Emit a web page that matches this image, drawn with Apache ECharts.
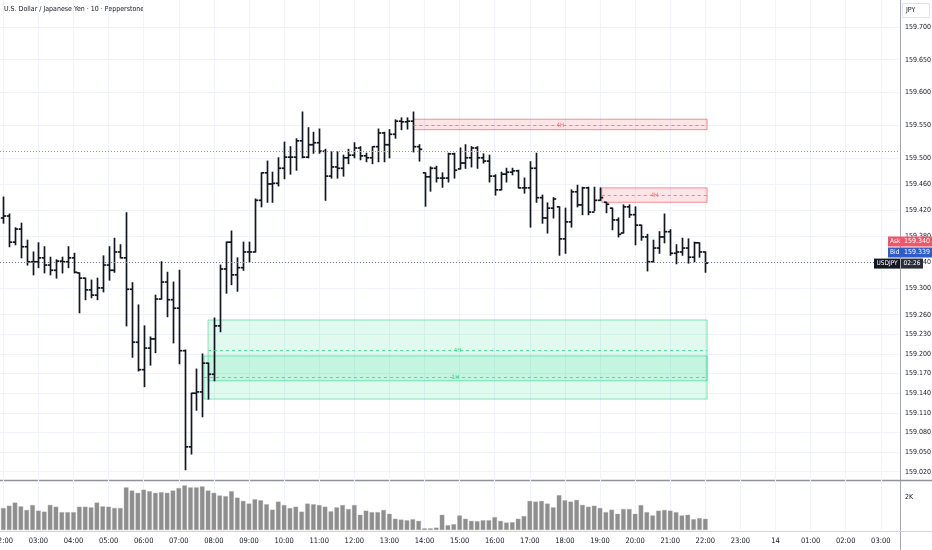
<!DOCTYPE html>
<html>
<head>
<meta charset="utf-8">
<script src="https://cdn.jsdelivr.net/npm/echarts@6.0.0/dist/echarts.min.js"></script>
<style>
html,body{margin:0;padding:0;background:#ffffff;}
#c{width:932px;height:550px;}
</style>
</head>
<body>
<div id="c"></div>
<script>
// ---------- DATA (10-minute bars, 02:00 .. 22:00) ----------
const opens = [
159.408,159.411,159.371,159.391,159.364,159.341,159.341,159.347,159.336,159.328,
159.342,159.341,159.347,159.324,159.316,159.298,159.290,159.301,159.336,159.328,
159.356,159.347,159.299,159.218,159.176,159.209,159.223,159.284,159.310,159.283,
159.270,159.205,159.058,159.140,159.142,159.186,159.169,159.243,159.330,159.371,
159.321,159.332,159.356,159.356,159.435,159.477,159.460,159.461,159.484,159.501,
159.501,159.526,159.501,159.520,159.523,159.510,159.472,159.486,159.484,159.500,
159.504,159.515,159.503,159.500,159.517,159.538,159.520,159.536,159.556,159.555,
159.556,159.517,159.477,159.471,159.484,159.469,159.469,159.506,159.483,159.492,
159.500,159.515,159.500,159.495,159.472,159.451,159.475,159.478,159.480,159.454,
159.454,159.484,159.439,159.408,159.423,159.425,159.376,159.402,159.448,159.428,
159.454,159.417,159.435,159.432,159.423,159.405,159.385,159.425,159.413,159.397,
159.379,159.341,159.362,159.379,159.387,159.354,159.356,159.362,159.348,159.370,
159.356];
const highs = [
159.440,159.414,159.393,159.400,159.374,159.356,159.370,159.364,159.348,159.344,
159.348,159.364,159.354,159.324,159.316,159.313,159.316,159.350,159.364,159.377,
159.367,159.416,159.309,159.275,159.243,159.226,159.290,159.341,159.325,159.310,
159.328,159.206,159.140,159.177,159.200,159.186,159.255,159.336,159.371,159.388,
159.347,159.371,159.371,159.437,159.477,159.495,159.478,159.500,159.524,159.517,
159.529,159.570,159.546,159.539,159.544,159.513,159.509,159.509,159.504,159.513,
159.523,159.517,159.507,159.517,159.544,159.539,159.543,159.558,159.561,159.561,
159.570,159.520,159.477,159.486,159.487,159.477,159.507,159.507,159.515,159.520,
159.517,159.517,159.506,159.504,159.474,159.478,159.484,159.484,159.481,159.469,
159.494,159.507,159.443,159.431,159.439,159.425,159.423,159.451,159.458,159.455,
159.455,159.455,159.454,159.432,159.423,159.408,159.428,159.428,159.425,159.397,
159.383,159.374,159.387,159.414,159.390,159.367,159.377,159.376,159.371,159.370,
159.356];
const lows = [
159.400,159.364,159.367,159.347,159.336,159.321,159.332,159.324,159.321,159.316,
159.324,159.332,159.324,159.263,159.283,159.286,159.283,159.295,159.313,159.325,
159.347,159.243,159.195,159.174,159.150,159.183,159.202,159.284,159.257,159.217,
159.185,159.023,159.047,159.114,159.104,159.131,159.159,159.234,159.293,159.306,
159.296,159.328,159.341,159.356,159.425,159.432,159.432,159.457,159.468,159.475,
159.481,159.500,159.500,159.507,159.507,159.435,159.469,159.469,159.472,159.491,
159.500,159.497,159.494,159.491,159.494,159.494,159.500,159.530,159.543,159.544,
159.509,159.495,159.426,159.449,159.463,159.455,159.463,159.469,159.483,159.484,
159.486,159.484,159.492,159.463,159.443,159.451,159.463,159.474,159.454,159.446,
159.394,159.432,159.400,159.385,159.408,159.351,159.354,159.394,159.425,159.413,
159.413,159.419,159.435,159.416,159.390,159.379,159.385,159.409,159.367,159.374,
159.327,159.341,159.354,159.370,159.351,159.338,159.351,159.339,159.341,159.348,
159.325];
const closes = [
159.411,159.371,159.391,159.364,159.341,159.341,159.347,159.336,159.328,159.342,
159.341,159.347,159.325,159.316,159.298,159.290,159.301,159.336,159.328,159.356,
159.347,159.299,159.218,159.176,159.209,159.223,159.284,159.310,159.283,159.270,
159.205,159.058,159.140,159.142,159.186,159.169,159.243,159.330,159.371,159.321,
159.332,159.356,159.356,159.435,159.477,159.460,159.461,159.484,159.501,159.501,
159.526,159.501,159.520,159.523,159.510,159.472,159.486,159.484,159.500,159.504,
159.515,159.503,159.500,159.517,159.538,159.520,159.536,159.556,159.555,159.556,
159.517,159.513,159.471,159.484,159.469,159.469,159.506,159.481,159.492,159.500,
159.515,159.500,159.495,159.472,159.451,159.475,159.478,159.480,159.454,159.454,
159.484,159.439,159.408,159.423,159.437,159.376,159.402,159.448,159.428,159.454,
159.417,159.435,159.439,159.429,159.405,159.383,159.425,159.413,159.397,159.379,
159.341,159.362,159.379,159.387,159.354,159.356,159.362,159.348,159.370,159.356,
159.339];
const volumes = [
1330,1470,1660,1430,1210,1510,1170,1110,1520,1410,
1080,1080,1080,1410,1410,1370,1660,1430,1410,1330,
1330,2580,2390,2250,2440,2350,2250,2290,2250,2390,
2540,2700,2580,2580,2640,2390,2250,2090,2050,2350,
1960,1760,1600,1860,1800,1560,1230,1720,1510,1330,
1410,1110,1600,1560,1510,1410,1130,1370,1510,1270,
1510,920,1170,1080,1080,1210,980,680,630,590,
650,550,100,100,140,920,290,350,880,680,
550,530,590,590,780,550,450,470,680,840,
1760,1720,1760,1600,1370,2110,1800,1720,1820,1520,
1410,1470,1330,1080,1230,980,1270,1270,980,1510,
1080,880,1170,1210,1170,1080,880,920,650,720,
680];
const hourLabels = ['02:00','03:00','04:00','05:00','06:00','07:00','08:00','09:00','10:00','11:00',
  '12:00','13:00','14:00','15:00','16:00','17:00','18:00','19:00','20:00','21:00','22:00','23:00',
  '14','01:00','02:00','03:00'];
const priceTicks = [159.700,159.650,159.600,159.550,159.500,159.460,159.420,159.380,159.340,159.300,
  159.260,159.230,159.200,159.170,159.140,159.110,159.080,159.050,159.020];
// zones
const zoneStart = [70.1, 102.3, 35.0, 34.3];
const zoneEnd   = [120.3, 120.3, 120.3, 120.3];
const zoneTop   = [159.559, 159.454, 159.252, 159.197];
const zoneBot   = [159.543, 159.432, 159.159, 159.131];
const zoneMid   = [159.550, 159.443, 159.205, 159.164];
const zoneText  = ['4H', '4H', '4H', '1H'];
const zoneKind  = ['red', 'red', 'green', 'green'];
const refPrice = 159.513;
const lastPrice = 159.339;
const askPrice = 159.340;
const bidPrice = 159.339;
const countdown = '02:26';
const symbolName = 'USDJPY';
const titleText = 'U.S. Dollar / Japanese Yen · 10 · Pepperstone';

// ---------- CHART ----------
const FONT = "'Liberation Sans Narrow','DejaVu Sans Condensed','Liberation Sans',sans-serif";
const xMin = -0.564, xMax = 153.28;
const hourTicks = hourLabels.map((_, k) => k * 6);
const bars = opens.map((o, i) => [i, o, closes[i], lows[i], highs[i]]);
const vols = volumes.map((v, i) => [i, v]);

const zoneStyle = {
  red: {fill: 'rgba(242,54,69,0.13)', border: 'rgba(242,54,69,0.55)', dash: '#f06872'},
  green: {fill: 'rgba(0,214,120,0.12)', border: 'rgba(0,200,110,0.45)', dash: '#3fd58f'}
};
const areaData = zoneStart.map((s, k) => [
  {coord: [s, zoneTop[k]], itemStyle: {color: zoneStyle[zoneKind[k]].fill, borderColor: zoneStyle[zoneKind[k]].border, borderWidth: 1}},
  {coord: [zoneEnd[k], zoneBot[k]]}
]);
const midLines = zoneStart.map((s, k) => [
  {coord: [s, zoneMid[k]], lineStyle: {color: zoneStyle[zoneKind[k]].dash, type: [3, 3], width: 0.8},
   label: {show: true, position: 'middle', formatter: zoneText[k], color: zoneStyle[zoneKind[k]].dash, fontSize: 6, fontFamily: FONT, distance: -3}},
  {coord: [zoneEnd[k], zoneMid[k]]}
]);

const axisText = {color: '#131722', fontFamily: FONT};

const option = {
  animation: false,
  backgroundColor: '#ffffff',
  grid: [
    {left: 0, right: 32, top: 0, height: 480, containLabel: false, outerBoundsMode: 'none'},
    {left: 0, right: 32, top: 480, height: 50, containLabel: false, outerBoundsMode: 'none'}
  ],
  xAxis: [
    {gridIndex: 0, type: 'value', min: xMin, max: xMax,
     axisLine: {show: false}, axisTick: {show: false, customValues: hourTicks},
     axisLabel: {show: false, customValues: hourTicks},
     splitLine: {show: true, lineStyle: {color: '#f0f3fa', width: 1}}},
    {gridIndex: 1, type: 'value', min: xMin, max: xMax,
     axisLine: {show: false}, axisTick: {show: false, customValues: hourTicks},
     axisLabel: Object.assign({show: true, customValues: hourTicks, margin: 7, fontSize: 7.5,
       formatter: v => hourLabels[Math.round(v / 6)]}, axisText),
     splitLine: {show: true, lineStyle: {color: '#f0f3fa', width: 1}}}
  ],
  yAxis: [
    {gridIndex: 0, type: 'value', position: 'right', min: 159.0073, max: 159.7413,
     axisLine: {show: false}, axisTick: {show: false, customValues: priceTicks},
     axisLabel: Object.assign({customValues: priceTicks, margin: 5, fontSize: 7, formatter: v => v.toFixed(3)}, axisText),
     splitLine: {show: true, lineStyle: {color: '#f0f3fa', width: 1}}},
    {gridIndex: 1, type: 'value', position: 'right', min: 0, max: 3030,
     axisLine: {show: false}, axisTick: {show: false, customValues: [2000]},
     axisLabel: Object.assign({customValues: [2000], margin: 5, fontSize: 7, formatter: () => '2K'}, axisText),
     splitLine: {show: false}}
  ],
  series: [
    {
      type: 'line', xAxisIndex: 0, yAxisIndex: 0, data: [], silent: true,
      markArea: {silent: true, data: areaData},
      markLine: {silent: true, symbol: ['none', 'none'], data: midLines.concat([
        {yAxis: refPrice, lineStyle: {color: '#9598a1', type: [1, 2], width: 1}, label: {show: false}},
        {yAxis: lastPrice, lineStyle: {color: '#787b86', type: [1, 2], width: 1}, label: {show: false}}
      ])}
    },
    {
      type: 'custom', xAxisIndex: 0, yAxisIndex: 0, data: bars, silent: true,
      encode: {x: 0, y: [1, 2, 3, 4]},
      renderItem: function (params, api) {
        const i = api.value(0);
        const x = Math.round(api.coord([i, api.value(1)])[0]) + 0.5;
        const o = api.coord([i, api.value(1)])[1];
        const c = api.coord([i, api.value(2)])[1];
        const l = api.coord([i, api.value(3)])[1];
        const h = api.coord([i, api.value(4)])[1];
        const st = {stroke: '#131722', lineWidth: 1.7};
        return {type: 'group', children: [
          {type: 'line', shape: {x1: x, y1: h - 0.5, x2: x, y2: l + 0.5}, style: st},
          {type: 'line', shape: {x1: x - 2.7, y1: o, x2: x, y2: o}, style: st},
          {type: 'line', shape: {x1: x, y1: c, x2: x + 2.7, y2: c}, style: st}
        ]};
      }
    },
    {
      type: 'bar', xAxisIndex: 1, yAxisIndex: 1, data: vols, barWidth: 4.6, silent: true,
      itemStyle: {color: '#8e8e8e', borderColor: '#a8a8a8', borderWidth: 0.4}
    }
  ],
  graphic: [
    {type: 'text', left: 4, top: 6, style: {text: titleText, fill: '#131722', fontSize: 7, fontFamily: FONT}},
    {type: 'line', shape: {x1: 900.5, y1: 0, x2: 900.5, y2: 550}, style: {stroke: '#a3a6af', lineWidth: 1}},
    {type: 'line', shape: {x1: 0, y1: 480.5, x2: 932, y2: 480.5}, style: {stroke: '#8f929b', lineWidth: 1.4}},
    {type: 'line', shape: {x1: 0, y1: 531.5, x2: 932, y2: 531.5}, style: {stroke: '#d1d4dc', lineWidth: 1}},
    {type: 'rect', shape: {x: 902.5, y: 3.5, width: 27, height: 14}, style: {fill: '#fff', stroke: '#e0e3eb', lineWidth: 1}},
    {type: 'text', x: 906, y: 7, style: {text: 'JPY', fill: '#131722', fontSize: 7, fontFamily: FONT}}
  ]
};

const chart = echarts.init(document.getElementById('c'));
chart.setOption(option);

const yLast = chart.convertToPixel({yAxisIndex: 0}, lastPrice);
function tag(id, x, y, w, bg, left, right) {
  const els = [
    {type: 'rect', id: id + 'r', shape: {x: x, y: y - 5, width: w, height: 10}, style: {fill: bg}, z: 100}
  ];
  if (right !== null) {
    els.push({type: 'text', id: id + 'l', x: x + 2, y: y, style: {text: left, fill: '#fff', fontSize: 6.5, fontFamily: FONT, verticalAlign: 'middle'}, z: 101});
    els.push({type: 'text', id: id + 't', x: x + w - 2, y: y, style: {text: right, fill: '#fff', fontSize: 7, fontFamily: FONT, align: 'right', verticalAlign: 'middle'}, z: 101});
  } else {
    els.push({type: 'text', id: id + 'l', x: x + w / 2, y: y, style: {text: left, fill: '#fff', fontSize: 6.5, fontFamily: FONT, align: 'center', verticalAlign: 'middle'}, z: 101});
  }
  return els;
}
chart.setOption({graphic: [].concat(
  tag('ask', 888, yLast - 21.5, 44, '#f0566b', 'Ask', askPrice.toFixed(3)),
  tag('bid', 888, yLast - 10.5, 44, '#2f5cc6', 'Bid', bidPrice.toFixed(3)),
  tag('sym', 874, yLast + 0.5, 26, '#131722', symbolName, null),
  tag('cd', 901, yLast + 0.5, 22, '#2a2e39', countdown, null)
)});
</script>
</body>
</html>
